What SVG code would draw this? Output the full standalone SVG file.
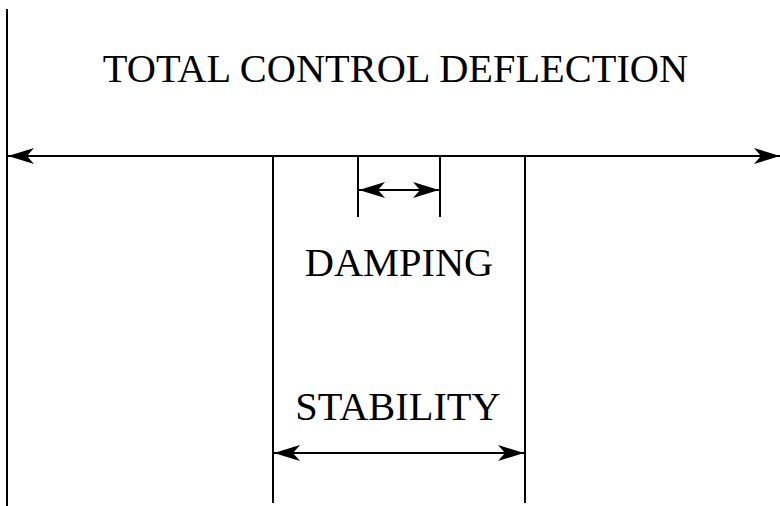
<svg xmlns="http://www.w3.org/2000/svg" width="780" height="506" viewBox="0 0 780 506">
  <style>
    .ln { stroke: #000; stroke-width: 2; fill: none; }
    .lbl { font-family: "Liberation Serif", "Times New Roman", serif; font-size: 40.4px; fill: #000; text-anchor: middle; }
  </style>
  <defs>
    <marker id="arrowEnd" viewBox="0 0 26 16" refX="26" refY="8" markerWidth="26" markerHeight="16" markerUnits="userSpaceOnUse" orient="auto">
      <path d="M0,0 L26,8 L0,16 L7,8 Z" fill="#000"/>
    </marker>
    <marker id="arrowStart" viewBox="0 0 26 16" refX="0" refY="8" markerWidth="26" markerHeight="16" markerUnits="userSpaceOnUse" orient="auto">
      <path d="M26,0 L0,8 L26,16 L19,8 Z" fill="#000"/>
    </marker>
  </defs>
  <rect width="780" height="506" fill="#fff"/>

  <g id="connectors">
    <!-- left datum line -->
    <line class="ln" x1="7" y1="9" x2="7" y2="506"/>
    <!-- total deflection span -->
    <line class="ln" x1="8" y1="156" x2="780" y2="156" marker-start="url(#arrowStart)" marker-end="url(#arrowEnd)"/>
    <!-- stability limits -->
    <line class="ln" x1="273" y1="156" x2="273" y2="503"/>
    <line class="ln" x1="525" y1="156" x2="525" y2="503"/>
    <!-- damping limits -->
    <line class="ln" x1="358" y1="156" x2="358" y2="217"/>
    <line class="ln" x1="440" y1="156" x2="440" y2="217"/>
    <!-- damping span -->
    <line class="ln" x1="359" y1="190" x2="439" y2="190" marker-start="url(#arrowStart)" marker-end="url(#arrowEnd)"/>
    <!-- stability span -->
    <line class="ln" x1="274" y1="453" x2="524" y2="453" marker-start="url(#arrowStart)" marker-end="url(#arrowEnd)"/>
  </g>

  <g id="total">
    <text class="lbl" x="395.5" y="81.5">TOTAL CONTROL DEFLECTION</text>
  </g>
  <g id="damping">
    <text class="lbl" x="399" y="276">DAMPING</text>
  </g>
  <g id="stability">
    <text class="lbl" x="398" y="420">STABILITY</text>
  </g>
</svg>
